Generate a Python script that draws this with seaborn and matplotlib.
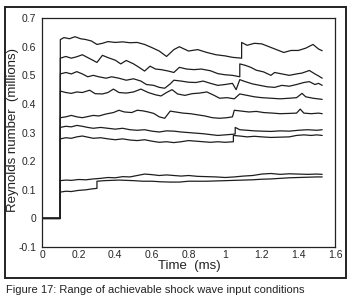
import pandas as pd
import matplotlib
matplotlib.use("Agg")
import matplotlib.pyplot as plt
import seaborn as sns
from matplotlib.patches import Rectangle

# dữ liệu: mỗi đường (thời gian ms, Reynolds triệu)
pre_t = [0.0, 0.1]
pre_v = [0.0, 0.0]

t_a = [0.10, 0.12, 0.15, 0.18, 0.21, 0.24, 0.27, 0.30, 0.33, 0.36, 0.40, 0.44, 0.48, 0.52, 0.56, 0.60,
       0.64, 0.68, 0.72, 0.75, 0.80, 0.85, 0.90, 0.95, 1.00, 1.04, 1.09, 1.09, 1.12, 1.16, 1.20, 1.24,
       1.28, 1.32, 1.36, 1.40, 1.44, 1.48, 1.51, 1.53]
v_a = [0.625, 0.632, 0.628, 0.635, 0.628, 0.625, 0.62, 0.608, 0.612, 0.618, 0.615, 0.617, 0.614, 0.615,
       0.608, 0.597, 0.585, 0.566, 0.59, 0.6, 0.585, 0.59, 0.58, 0.572, 0.568, 0.563, 0.56, 0.615, 0.605,
       0.612, 0.61, 0.6, 0.59, 0.58, 0.587, 0.587, 0.595, 0.608, 0.592, 0.586]

t_b = [0.10, 0.13, 0.16, 0.19, 0.22, 0.25, 0.28, 0.30, 0.33, 0.36, 0.40, 0.43, 0.46, 0.50, 0.53, 0.56,
       0.59, 0.62, 0.65, 0.69, 0.72, 0.75, 0.79, 0.83, 0.87, 0.92, 0.96, 1.00, 1.04, 1.08, 1.08, 1.11,
       1.14, 1.17, 1.21, 1.25, 1.27, 1.31, 1.35, 1.39, 1.42, 1.46, 1.49, 1.51, 1.53]
v_b = [0.56, 0.566, 0.56, 0.565, 0.572, 0.562, 0.552, 0.545, 0.57, 0.562, 0.553, 0.54, 0.552, 0.54,
       0.528, 0.515, 0.532, 0.522, 0.52, 0.515, 0.51, 0.528, 0.522, 0.52, 0.522, 0.516, 0.506, 0.502,
       0.5, 0.495, 0.54, 0.535, 0.528, 0.518, 0.512, 0.5, 0.51, 0.505, 0.5, 0.505, 0.508, 0.517, 0.505,
       0.498, 0.49]

t_c = [0.10, 0.13, 0.16, 0.19, 0.22, 0.25, 0.28, 0.31, 0.35, 0.38, 0.42, 0.46, 0.50, 0.54, 0.57, 0.61,
       0.64, 0.67, 0.70, 0.72, 0.76, 0.80, 0.84, 0.88, 0.92, 0.96, 1.00, 1.04, 1.06, 1.08, 1.11, 1.15,
       1.19, 1.23, 1.27, 1.31, 1.35, 1.39, 1.43, 1.46, 1.49, 1.51, 1.53]
v_c = [0.505, 0.51, 0.505, 0.513, 0.505, 0.495, 0.5, 0.495, 0.49, 0.495, 0.49, 0.483, 0.488, 0.48,
       0.468, 0.465, 0.458, 0.455, 0.47, 0.483, 0.48, 0.476, 0.475, 0.48, 0.472, 0.465, 0.468, 0.472,
       0.45, 0.485, 0.478, 0.47, 0.465, 0.46, 0.458, 0.465, 0.462, 0.468, 0.475, 0.478, 0.468, 0.472,
       0.465]

t_d = [0.10, 0.13, 0.16, 0.19, 0.22, 0.26, 0.29, 0.33, 0.36, 0.39, 0.42, 0.46, 0.50, 0.54, 0.58, 0.62,
       0.65, 0.68, 0.71, 0.74, 0.78, 0.82, 0.86, 0.90, 0.94, 0.97, 1.01, 1.05, 1.08, 1.12, 1.16, 1.20,
       1.25, 1.30, 1.35, 1.39, 1.42, 1.44, 1.48, 1.53]
v_d = [0.445, 0.44, 0.437, 0.442, 0.44, 0.448, 0.436, 0.435, 0.44, 0.452, 0.44, 0.438, 0.442, 0.452,
       0.44, 0.432, 0.428, 0.44, 0.45, 0.435, 0.43, 0.436, 0.438, 0.442, 0.43, 0.42, 0.422, 0.418, 0.435,
       0.43, 0.425, 0.422, 0.42, 0.418, 0.42, 0.422, 0.437, 0.425, 0.42, 0.416]

t_e = [0.10, 0.13, 0.16, 0.19, 0.22, 0.25, 0.28, 0.31, 0.35, 0.39, 0.42, 0.45, 0.49, 0.52, 0.55, 0.58,
       0.61, 0.64, 0.67, 0.70, 0.73, 0.77, 0.81, 0.85, 0.89, 0.93, 0.97, 1.01, 1.04, 1.05, 1.09, 1.13,
       1.17, 1.21, 1.26, 1.30, 1.35, 1.39, 1.41, 1.43, 1.47, 1.51, 1.53]
v_e = [0.352, 0.355, 0.36, 0.355, 0.352, 0.356, 0.36, 0.358, 0.365, 0.37, 0.378, 0.372, 0.37, 0.378,
       0.376, 0.372, 0.367, 0.355, 0.35, 0.375, 0.372, 0.368, 0.366, 0.362, 0.358, 0.352, 0.35, 0.352,
       0.355, 0.378, 0.375, 0.372, 0.374, 0.37, 0.368, 0.366, 0.367, 0.368, 0.382, 0.368, 0.366, 0.368,
       0.366]

t_f = [0.10, 0.13, 0.16, 0.19, 0.22, 0.25, 0.28, 0.32, 0.36, 0.40, 0.44, 0.48, 0.52, 0.56, 0.60, 0.64,
       0.68, 0.72, 0.76, 0.80, 0.84, 0.88, 0.92, 0.96, 1.00, 1.04, 1.055, 1.055, 1.08, 1.12, 1.16, 1.20,
       1.25, 1.30, 1.35, 1.40, 1.45, 1.50, 1.53]
v_f = [0.318, 0.322, 0.32, 0.325, 0.322, 0.318, 0.315, 0.318, 0.315, 0.312, 0.315, 0.31, 0.308, 0.31,
       0.305, 0.302, 0.306, 0.305, 0.302, 0.3, 0.298, 0.296, 0.293, 0.29, 0.292, 0.294, 0.295, 0.318,
       0.31, 0.308, 0.306, 0.305, 0.304, 0.306, 0.305, 0.308, 0.31, 0.308, 0.31]

t_g = [0.10, 0.13, 0.16, 0.19, 0.22, 0.25, 0.28, 0.32, 0.36, 0.40, 0.44, 0.48, 0.52, 0.56, 0.60, 0.64,
       0.68, 0.72, 0.76, 0.80, 0.84, 0.88, 0.92, 0.96, 1.00, 1.045, 1.045, 1.08, 1.12, 1.16, 1.20, 1.25,
       1.30, 1.35, 1.39, 1.43, 1.47, 1.50, 1.53]
v_g = [0.278, 0.282, 0.28, 0.285, 0.288, 0.284, 0.28, 0.282, 0.278, 0.275, 0.278, 0.274, 0.272, 0.275,
       0.27, 0.266, 0.268, 0.265, 0.268, 0.272, 0.27, 0.268, 0.266, 0.268, 0.266, 0.268, 0.29, 0.288,
       0.285, 0.287, 0.285, 0.283, 0.284, 0.285, 0.29, 0.292, 0.29, 0.292, 0.29]

t_h = [0.10, 0.13, 0.16, 0.20, 0.24, 0.28, 0.32, 0.36, 0.40, 0.44, 0.48, 0.52, 0.56, 0.60, 0.64, 0.68,
       0.72, 0.76, 0.80, 0.85, 0.90, 0.95, 1.00, 1.05, 1.10, 1.15, 1.20, 1.25, 1.30, 1.35, 1.40, 1.45,
       1.50, 1.53]
v_h = [0.132, 0.134, 0.133, 0.136, 0.135, 0.138, 0.14, 0.143, 0.142, 0.146, 0.145, 0.15, 0.155, 0.153,
       0.15, 0.152, 0.15, 0.148, 0.15, 0.147, 0.146, 0.145, 0.143, 0.145, 0.148, 0.15, 0.155, 0.157,
       0.154, 0.156, 0.155, 0.154, 0.155, 0.154]

t_i = [0.10, 0.13, 0.16, 0.20, 0.24, 0.27, 0.30, 0.30, 0.34, 0.38, 0.42, 0.46, 0.50, 0.55, 0.60, 0.65,
       0.70, 0.75, 0.80, 0.85, 0.90, 0.95, 1.00, 1.05, 1.10, 1.15, 1.20, 1.25, 1.30, 1.35, 1.40, 1.45,
       1.50, 1.53]
v_i = [0.092, 0.095, 0.094, 0.098, 0.1, 0.103, 0.105, 0.13, 0.132, 0.133, 0.134, 0.133, 0.132, 0.13,
       0.13, 0.128, 0.127, 0.127, 0.13, 0.13, 0.13, 0.131, 0.132, 0.133, 0.134, 0.135, 0.137, 0.138,
       0.14, 0.142, 0.143, 0.144, 0.145, 0.145]

x_ticks = [0, 0.2, 0.4, 0.6, 0.8, 1.0, 1.2, 1.4, 1.6]
x_labels = ["0", "0.2", "0.4", "0.6", "0.8", "1", "1.2", "1.4", "1.6"]
y_ticks = [-0.1, 0, 0.1, 0.2, 0.3, 0.4, 0.5, 0.6, 0.7]
y_labels = ["-0.1", "0", "0.1", "0.2", "0.3", "0.4", "0.5", "0.6", "0.7"]

traces = {"a": (t_a, v_a), "b": (t_b, v_b), "c": (t_c, v_c), "d": (t_d, v_d), "e": (t_e, v_e),
          "f": (t_f, v_f), "g": (t_g, v_g), "h": (t_h, v_h), "i": (t_i, v_i)}

rows = []
for name, (tt, vv) in traces.items():
    for t, v in zip(pre_t + tt, pre_v + vv):
        rows.append({"trace": name, "time": t, "re": v})
df = pd.DataFrame(rows)

sns.set_style("white")
plt.rcParams['font.family'] = ['Liberation Sans', 'DejaVu Sans']

fig = plt.figure(figsize=(3.6, 3.02), dpi=100)
ax = fig.add_axes([0.1167, 0.182, 0.8139, 0.758])

sns.lineplot(data=df, x="time", y="re", units="trace", estimator=None, sort=False,
             color="#1e1e1e", linewidth=0.9, ax=ax)

ax.set_xlim(0, 1.6)
ax.set_ylim(-0.1, 0.7)
ax.set_xticks(x_ticks)
ax.set_xticklabels(x_labels, fontsize=7.5)
ax.set_yticks(y_ticks)
ax.set_yticklabels(y_labels, fontsize=7.5)
ax.tick_params(axis="x", direction="in", length=3, pad=2, color="#222")
ax.tick_params(axis="y", direction="out", length=2.5, pad=1.5, color="#222")
ax.set_xlabel("")
ax.set_ylabel("")
for s in ax.spines.values():
    s.set_color("#222")
    s.set_linewidth(0.9)

fig.text(0.036, 0.57, "Reynolds number  (millions)", rotation=90, fontsize=9.5,
         ha="center", va="center", color="#222")
fig.text(0.525, 0.118, "Time  (ms)", fontsize=9.5, ha="center", va="center", color="#222")

# khung ngoài + chú thích
fig.patches.append(Rectangle((0.0139, 0.0795), 0.947, 0.897, transform=fig.transFigure,
                             fill=False, linewidth=1.4, edgecolor="#222"))
fig.text(0.017, 0.04, "Figure 17: Range of achievable shock wave input conditions",
         fontsize=8, ha="left", va="center", color="#222")

fig.savefig("out.png", dpi=100)
